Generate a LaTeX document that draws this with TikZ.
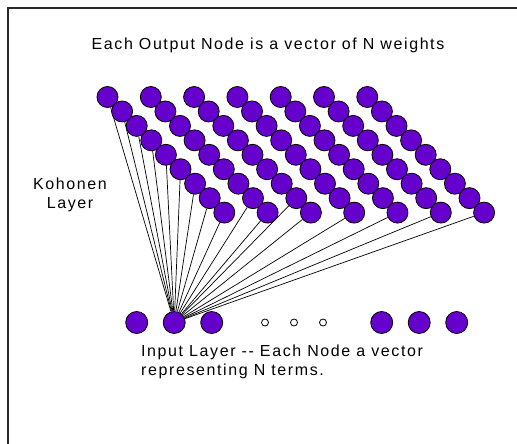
\documentclass[tikz,border=0pt]{standalone}
\usepackage{fontspec}
\setmainfont{Liberation Sans}[LetterSpace=10]
\usetikzlibrary{positioning,backgrounds}
\definecolor{kpurple}{RGB}{102,0,204}
\definecolor{kframe}{RGB}{40,40,40}
\tikzset{
  kNode/.style={circle, draw=black, line width=0.8pt, fill=kpurple,
                minimum size=21pt, inner sep=0pt},
  kDot/.style={circle, draw=black, line width=0.8pt, fill=white,
               minimum size=7pt, inner sep=0pt},
  kLink/.style={draw=black, line width=0.7pt},
  kText/.style={font=\fontsize{16}{19}\selectfont, inner sep=0pt}
}

\begin{document}
\begin{tikzpicture}[x=1pt,y=-1pt]
  \useasboundingbox (0,0) rectangle (517,444);
  \draw[kframe, line width=2pt] (8,444) -- (8,8) -- (517,8);

  % labels
  \node[kText] (title) at (268,45) {Each Output Node is a vector of N weights};
  \node[kText, align=center] (klabel) at (70,195) {Kohonen\\Layer};
  \node[kText, align=left, anchor=north west] (inlabel) at (141,345)
        {Input Layer -{}- Each Node a vector\\representing N terms.};

  % Kohonen layer: 7 diagonal rows of 9 nodes
  \foreach \c in {0,...,6}
    \foreach \i in {0,...,8}
      \node[kNode] (k-\c-\i) at ({107.5+43.3*\c+14.6*\i},{97+14.45*\i}) {};

  % input layer
  \node[kNode, minimum size=22pt] (in1) at (136.7,322.5) {};
  \node[kNode, minimum size=22pt, right=14.7pt of in1] (in2) {};
  \node[kNode, minimum size=22pt, right=14.7pt of in2] (in3) {};
  \node[kDot] (dot1) at (265,322.5) {};
  \node[kDot] (dot2) at (294,322.5) {};
  \node[kDot] (dot3) at (323,322.5) {};
  \node[kNode, minimum size=22pt] (in4) at (381.7,322.5) {};
  \node[kNode, minimum size=22pt, right=14.7pt of in4] (in5) {};
  \node[kNode, minimum size=22pt, right=14.7pt of in5] (in6) {};

  % weights from one input node
  \begin{scope}[on background layer]
    \foreach \i in {0,...,8}
      \draw[kLink] (in2) -- (k-0-\i);
    \foreach \t in {1-7,1-8,2-7,2-8,3-8,4-8,5-8,6-8}
      \draw[kLink] (in2) -- (k-\t);
  \end{scope}
\end{tikzpicture}
\end{document}
